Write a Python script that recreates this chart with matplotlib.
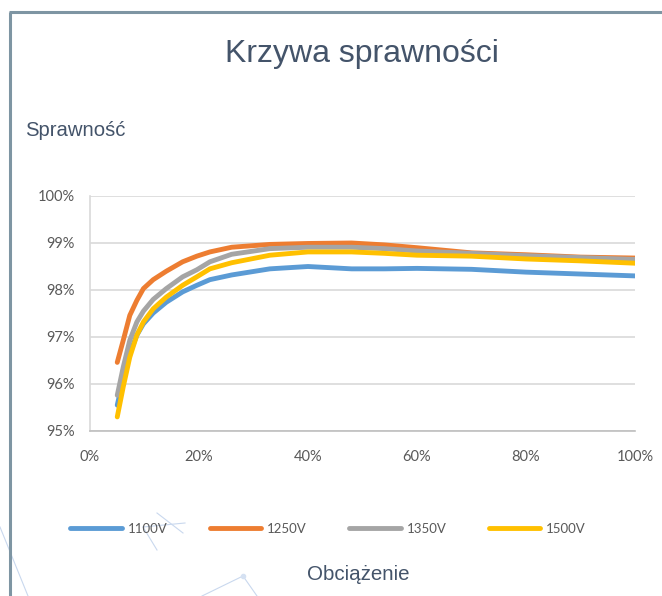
import matplotlib
matplotlib.use("Agg")
import matplotlib.pyplot as plt
from matplotlib.lines import Line2D
from matplotlib.ticker import FuncFormatter

# Data (load %, efficiency %)
load = [5, 6.1, 7.3, 8.6, 9.8, 11.6, 14, 17, 19.6, 22, 26, 33, 40, 48, 54, 60, 70, 80, 90, 100]
eff_1100 = [95.55, 96.11, 96.65, 97.04, 97.28, 97.51, 97.74, 97.96, 98.10, 98.22, 98.32,
            98.45, 98.50, 98.45, 98.45, 98.46, 98.44, 98.38, 98.34, 98.30]
eff_1250 = [96.46, 96.93, 97.46, 97.78, 98.03, 98.22, 98.40, 98.60, 98.72, 98.81, 98.91,
            98.97, 98.99, 99.00, 98.96, 98.90, 98.79, 98.75, 98.70, 98.68]
eff_1350 = [95.76, 96.36, 96.93, 97.32, 97.55, 97.80, 98.03, 98.28, 98.43, 98.60, 98.76,
            98.88, 98.91, 98.91, 98.88, 98.83, 98.78, 98.73, 98.69, 98.65]
eff_1500 = [95.30, 95.94, 96.57, 97.04, 97.32, 97.60, 97.85, 98.10, 98.28, 98.45, 98.58,
            98.74, 98.81, 98.81, 98.78, 98.74, 98.72, 98.66, 98.62, 98.57]
series_labels = ["1100V", "1250V", "1350V", "1500V"]
series_colors = ["#5B9BD5", "#ED7D31", "#A5A5A5", "#FFC000"]
x_ticks = [0, 20, 40, 60, 80, 100]
y_ticks = [95, 96, 97, 98, 99, 100]

W, H = 662, 596
fig = plt.figure(figsize=(W / 100, H / 100), dpi=100)
fig.patch.set_facecolor("white")

# decorative faint lines
deco = [((0, 527), (28, 596)), ((157, 513), (183, 533)), ((143, 527), (185, 523)),
        ((143, 527), (157, 550)), ((243, 576), (202, 596)), ((243, 576), (257, 596))]
for (x0, y0), (x1, y1) in deco:
    fig.add_artist(Line2D([x0 / W, x1 / W], [1 - y0 / H, 1 - y1 / H],
                          color="#C9D8EE", lw=0.8, transform=fig.transFigure))
fig.add_artist(Line2D([243 / W], [1 - 576 / H], marker="o", ms=3, color="#D5E1F2",
                      transform=fig.transFigure))

# frame lines
fig.add_artist(Line2D([10 / W, 10 / W], [0, 1 - 12 / H], color="#7E95A3", lw=2.2,
                      transform=fig.transFigure, solid_capstyle="butt"))
fig.add_artist(Line2D([9 / W, 1], [1 - 12 / H, 1 - 12 / H], color="#7E95A3", lw=2.2,
                      transform=fig.transFigure, solid_capstyle="butt"))

ax = fig.add_axes([90 / W, 1 - 431 / H, (635 - 90) / W, (431 - 196) / H])
for vals, lab, col in zip([eff_1100, eff_1250, eff_1350, eff_1500], series_labels, series_colors):
    ax.plot(load, vals, color=col, lw=3.5, label=lab, solid_capstyle="round",
            solid_joinstyle="round")

ax.set_xlim(0, 100)
ax.set_ylim(95, 100)
ax.set_xticks(x_ticks)
ax.set_yticks(y_ticks)
ax.xaxis.set_major_formatter(FuncFormatter(lambda v, p: f"{v:.0f}%"))
ax.yaxis.set_major_formatter(FuncFormatter(lambda v, p: f"{v:.0f}%"))
ax.grid(axis="y", color="#D9D9D9", lw=1.2)
ax.set_axisbelow(True)
for s in ["top", "right"]:
    ax.spines[s].set_visible(False)
ax.spines["left"].set_color("#D9D9D9")
ax.spines["left"].set_linewidth(1.2)
ax.spines["bottom"].set_color("#BFBFBF")
ax.spines["bottom"].set_linewidth(1.2)
ax.tick_params(axis="both", length=0, labelcolor="#595959", labelsize=10.5)
ax.tick_params(axis="y", pad=11)
ax.tick_params(axis="x", pad=14)
for t in ax.get_xticklabels() + ax.get_yticklabels():
    t.set_fontfamily("Lato")

fig.text(362 / W, 1 - 54 / H, "Krzywa sprawności", ha="center", va="center",
         fontsize=23, color="#44546A", family="Liberation Sans")
fig.text(25 / W, 1 - 130 / H, "Sprawność", ha="left", va="center",
         fontsize=14.6, color="#44546A", family="Liberation Sans")
fig.text(358 / W, 1 - 574 / H, "Obciążenie", ha="center", va="center",
         fontsize=14.8, color="#44546A", family="Liberation Sans")

handles = [Line2D([], [], color=c, lw=3.5, solid_capstyle="round") for c in series_colors]
leg = fig.legend(handles, series_labels, loc="center", ncol=4,
                 bbox_to_anchor=(328 / W, 1 - 529 / H), frameon=False,
                 prop={"family": "Lato", "size": 9.5}, handlelength=3.9,
                 handletextpad=0.45, columnspacing=3.2)
for t in leg.get_texts():
    t.set_color("#595959")

fig.savefig("out.png", dpi=100, facecolor="white")
